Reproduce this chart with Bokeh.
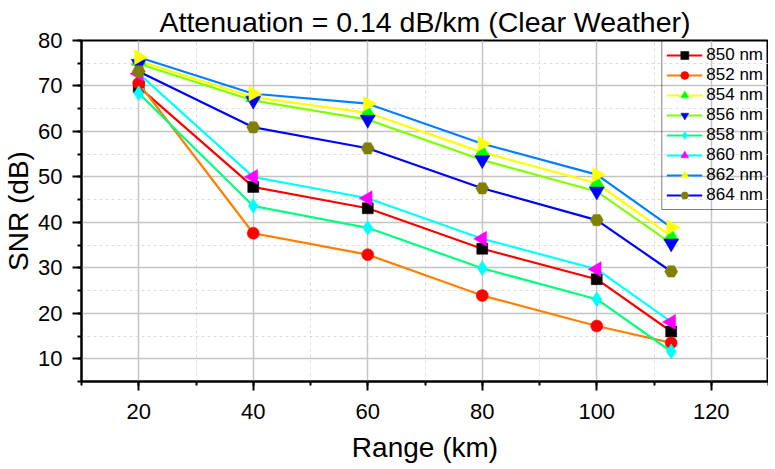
import math
from bokeh.plotting import figure
from bokeh.models import Range1d, SingleIntervalTicker, Legend, LegendItem
from bokeh.embed import file_html
from bokeh.resources import INLINE

# ---- data ----
range_km = [20, 40, 60, 80, 100, 113]
labels = ["850 nm", "852 nm", "854 nm", "856 nm", "858 nm", "860 nm", "862 nm", "864 nm"]
snr_850 = [69.8, 47.8, 43.1, 34.2, 27.5, 16.0]
snr_852 = [70.6, 37.6, 32.9, 23.9, 17.2, 13.5]
snr_854 = [75.5, 67.5, 64.1, 55.4, 48.6, 36.9]
snr_856 = [74.9, 66.8, 62.6, 53.7, 46.8, 35.4]
snr_858 = [68.4, 43.6, 38.8, 29.9, 23.1, 11.6]
snr_860 = [72.7, 50.0, 45.3, 36.4, 29.7, 18.1]
snr_862 = [76.3, 68.3, 66.1, 57.3, 50.5, 38.9]
snr_864 = [73.2, 60.9, 56.3, 47.5, 40.5, 29.2]
x_ticks = [20, 40, 60, 80, 100, 120]
y_ticks = [10, 20, 30, 40, 50, 60, 70, 80]

series = [snr_850, snr_852, snr_854, snr_856, snr_858, snr_860, snr_862, snr_864]
line_colors = ["#FF0000", "#FF8000", "#FFFF00", "#80FF00", "#00FF80", "#00FFFF", "#0080FF", "#0000FF"]
marker_colors = ["#000000", "#FF0000", "#00FF00", "#0000FF", "#00FFFF", "#FF00FF", "#FFFF00", "#808000"]
markers = ["square", "circle", "triangle", "inverted_triangle", "diamond", "triangle", "triangle", "hex"]
angles = [0, 0, 0, 0, 0, math.pi / 2, -math.pi / 2, 0]
sizes = [11, 12, 15, 15, 15, 15, 15, 13]

FONT = "Liberation Sans"

p = figure(frame_width=687, frame_height=341, output_backend="svg", toolbar_location=None,
           x_range=Range1d(10, 130), y_range=Range1d(5, 80),
           min_border_left=73, min_border_right=0, min_border_top=32, min_border_bottom=0)

p.title.text = "Attenuation = 0.14 dB/km (Clear Weather)"
p.title.text_font = FONT
p.title.text_font_size = "28.5px"
p.title.text_font_style = "normal"
p.title.align = "center"
p.title.text_color = "#000000"
p.title.standoff = 6

p.outline_line_color = "#000000"
p.outline_line_width = 2
p.outline_line_alpha = 1

p.xaxis.ticker = SingleIntervalTicker(interval=20, num_minor_ticks=2)
p.yaxis.ticker = SingleIntervalTicker(interval=10, num_minor_ticks=2)
p.xaxis.axis_label = "Range (km)"
p.yaxis.axis_label = "SNR (dB)"
for ax in (p.xaxis, p.yaxis):
    ax.axis_label_text_font = FONT
    ax.axis_label_text_font_size = "28px"
    ax.axis_label_text_font_style = "normal"
    ax.axis_label_text_color = "#000000"
    ax.major_label_text_font = FONT
    ax.major_label_text_font_size = "22px"
    ax.major_label_text_color = "#000000"
    ax.axis_line_width = 2
    ax.axis_line_color = "#000000"
    ax.major_tick_line_width = 2
    ax.minor_tick_line_width = 2
    ax.major_tick_line_color = "#000000"
    ax.minor_tick_line_color = "#000000"
    ax.major_tick_out = 9
    ax.major_tick_in = 0
    ax.minor_tick_out = 4
    ax.minor_tick_in = 0
p.xaxis.major_label_standoff = 13
p.xaxis.axis_label_standoff = 10
p.yaxis.major_label_standoff = 10
p.yaxis.axis_label_standoff = 1

for g in (p.xgrid, p.ygrid):
    g.grid_line_color = "#c4c4c4"
    g.grid_line_width = 1.5
    g.minor_grid_line_color = "#dcdcdc"
    g.minor_grid_line_width = 1
    g.minor_grid_line_dash = "3 3"
p.xgrid.ticker = p.xaxis.ticker
p.ygrid.ticker = p.yaxis.ticker

items = []
for vals, lab, lc, mc, mk, ang, sz in zip(series, labels, line_colors, marker_colors, markers, angles, sizes):
    lr = p.line(range_km, vals, line_color=lc, line_width=2.2)
    sr = p.scatter(range_km, vals, marker=mk, angle=ang, size=sz,
                   fill_color=mc, line_color=mc, line_width=0.5)
    items.append(LegendItem(label=lab, renderers=[lr, sr]))

legend = Legend(items=items, location="top_right", margin=0, padding=4, spacing=0,
                glyph_width=36, glyph_height=20, label_height=20, label_standoff=4,
                label_text_font=FONT, label_text_font_size="17px",
                label_text_color="#000000",
                border_line_color="#000000", border_line_width=1.5,
                background_fill_color="#ffffff", background_fill_alpha=0.0)
p.add_layout(legend)

open("out.html", "w").write(file_html(p, INLINE))
